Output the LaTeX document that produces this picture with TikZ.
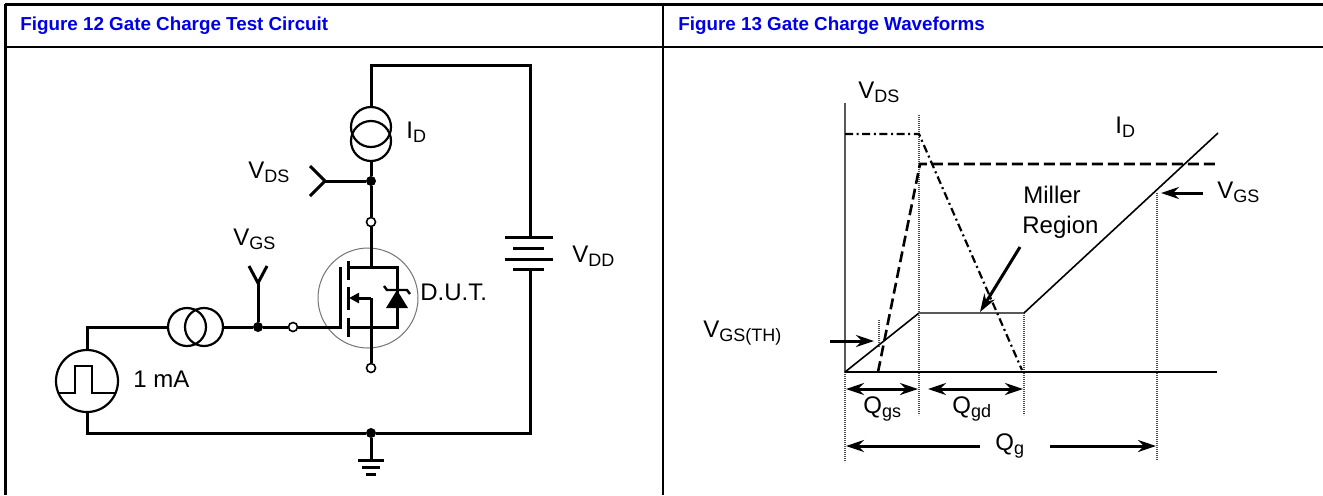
\documentclass[tikz,border=0pt]{standalone}
\usepackage{fontspec}
\setmainfont{Liberation Sans}
\usetikzlibrary{arrows.meta,calc}
\definecolor{titleblue}{RGB}{0,0,230}
\newcommand{\lsub}[2]{#1\raisebox{-2pt}{\fontsize{9}{10}\selectfont #2}}
\begin{document}
\begin{tikzpicture}[x=0.5pt,y=-0.5pt,
wire/.style={line width=1.5pt},
ring/.style={circle,draw,line width=1.1pt,inner sep=0pt},
dot/.style={circle,fill=black,inner sep=0pt,minimum size=5pt},
term/.style={circle,draw,fill=white,line width=0.8pt,inner sep=0pt,minimum size=4.5pt},
lbl/.style={font=\fontsize{12}{14}\selectfont,inner sep=0pt,anchor=base west},
title/.style={font=\bfseries\fontsize{9.4}{11}\selectfont,text=titleblue,anchor=west,inner sep=0pt},
grid/.style={line width=1.2pt,draw=black!70,dash pattern=on 0.6pt off 0.4pt},
trace/.style={line width=0.8pt},
arr/.style={line width=1.5pt,-{Stealth[length=9pt,width=6pt]}},
darr/.style={line width=1.5pt,{Stealth[length=9pt,width=6pt]}-{Stealth[length=9pt,width=6pt]}}]
\useasboundingbox (0,0) rectangle (1323,495);
% table
\draw[line width=1.5pt] (5,4) -- (1323,4);
\draw[line width=1.2pt] (5,47) -- (1323,47);
\draw[line width=1.5pt] (5,4) -- (5,495);
\draw[line width=1.2pt] (663,4) -- (663,495);
\node[title] (t12) at (20,26) {Figure 12 Gate Charge Test Circuit};
\node[title] (t13) at (678,26) {Figure 13 Gate Charge Waveforms};

% --- test circuit ---
\coordinate (top) at (371,65);
\coordinate (topR) at (530,65);
\node[ring,minimum size=20pt] (id1) at (371,127) {};
\node[ring,minimum size=20pt] (id2) at (371,141) {};
\node[dot] (nDS) at (371,181) {};
\node[term] (tD) at (371,222) {};
\node[term] (tS) at (371,368) {};
\node[term] (tG) at (293,327) {};
\node[dot] (nGS) at (258,327) {};
\node[ring,minimum size=19pt] (ig1) at (187,327) {};
\node[ring,minimum size=19pt] (ig2) at (204,327) {};
\node[ring,minimum size=31pt] (pls) at (87,381) {};
\node[dot] (nG) at (371,433) {};
\coordinate (pDS) at (325,181);
\coordinate (pGS) at (258,283);

\draw[wire] (id1.north) -- (top) -- (topR) -- (530,237);
\draw[wire] (id2.south) -- (nDS) -- (tD);
\draw[wire] (nDS) -- (pDS);
\draw[wire] (310,166) -- (pDS) -- (310,196);
\draw[wire] (nGS) -- (pGS);
\draw[wire] (249,266) -- (pGS) -- (267,266);
\draw[wire] (tG) -- (nGS) -- (ig2.east);
\draw[wire] (ig1.west) -- (87,327) -- (pls.north);
\draw[wire] (pls.south) -- (87,433) -- (nG) -- (530,433) -- (530,269);
\draw[line width=1pt] (58.4,393) -- (75,393) -- (75,366) -- (92,366) -- (92,393) -- (115.6,393);
% battery
\draw[wire] (505,237) -- (553,237);
\draw[wire] (513,248) -- (544,248);
\draw[wire] (505,259) -- (553,259);
\draw[wire] (513,269) -- (544,269);
% ground
\draw[wire] (nG) -- (371,460);
\draw[wire] (358,460) -- (384,460);
\draw[wire] (362,467) -- (380,467);
\draw[wire] (366,474) -- (376,474);
% D.U.T.
\node[circle,draw=black!55,line width=0.5pt,minimum size=50pt] (dut) at (368,298) {};
\draw[wire] (tD) -- (371,267);
\draw[wire] (348,267) -- (397,267) -- (397,327) -- (348,327);
\draw[wire] (348,261) -- (348,280);
\draw[wire] (348,287) -- (348,310);
\draw[wire] (348,318) -- (348,337);
\draw[wire] (tG) -- (340,327) -- (340,267);
\draw[wire,-{Triangle[length=5pt,width=5pt]}] (371,298) -- (349,298);
\draw[wire] (371,298) -- (tS);
\fill (397,290) -- (408,308) -- (386,308) -- cycle;
\draw[line width=1.2pt] (384,286) -- (387,290) -- (407,290) -- (410,294);

\node[lbl] (lID) at (406,138) {\lsub{I}{D}};
\node[lbl] (lVDS) at (248,178) {\lsub{V}{DS}};
\node[lbl] (lVGS) at (233,245) {\lsub{V}{GS}};
\node[lbl] (lVDD) at (572,262) {\lsub{V}{DD}};
\node[lbl] (lDUT) at (420,300) {D.U.T.};
\node[lbl] (l1mA) at (133,387) {1 mA};

% --- waveforms ---
\coordinate (o) at (845,372);
\coordinate (gs) at (919,313);
\coordinate (gd) at (1024,313);
\coordinate (gend) at (1218,133);
\coordinate (dsT) at (919,134);
\coordinate (dsB) at (1022,370);
\coordinate (idA) at (878,372);
\coordinate (idT) at (920,164);
\coordinate (idR) at (1218,164);

\draw[line width=1.1pt,black!65] (845,103) -- (o);
\draw[grid] (o) -- (845,462);
\draw[grid] (919,115) -- (919,415);
\draw[grid] (1024,313) -- (1024,415);
\draw[grid] (1157,193) -- (1157,460);
\draw[grid] (879,320) -- (879,347);
\draw[line width=0.7pt] (o) -- (1217,372);
\draw[trace] (o) -- (gs);
\draw[line width=1.4pt,black!65] (gs) -- (gd);
\draw[trace] (gd) -- (gend);
\draw[line width=1.1pt,dash pattern=on 4pt off 1.8pt on 1pt off 1.8pt] (845,134) -- (dsT) -- (dsB);
\draw[line width=1.3pt,dash pattern=on 5.5pt off 2.5pt] (idA) -- (idT) -- (idR);

\draw[arr] (830,341) -- (874,341);
\draw[arr] (1203,193) -- (1161,193);
\draw[arr] (1020,247) -- (980,312);
\draw[darr] (846,389) -- (918,389);
\draw[darr] (928,389) -- (1023,389);
\draw[arr] (980,446) -- (846,446);
\draw[arr] (1050,446) -- (1156,446);

\node[lbl] (wVDS) at (858,98) {\lsub{V}{DS}};
\node[lbl] (wID) at (1115,133) {\lsub{I}{D}};
\node[lbl] (wVGS) at (1217,198) {\lsub{V}{GS}};
\node[lbl] (wMil) at (1023,203) {Miller};
\node[lbl] (wReg) at (1022,233) {Region};
\node[lbl] (wTH) at (703,337) {\lsub{V}{GS(TH)}};
\node[lbl] (wQgs) at (863,413) {\lsub{Q}{gs}};
\node[lbl] (wQgd) at (952,413) {\lsub{Q}{gd}};
\node[lbl] (wQg) at (995,450) {\lsub{Q}{g}};
\end{tikzpicture}
\end{document}
